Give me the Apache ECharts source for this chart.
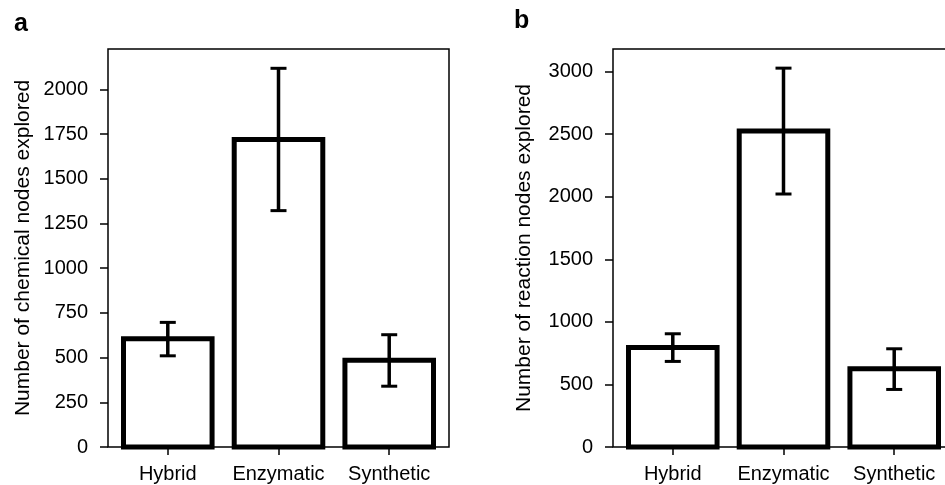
<!DOCTYPE html>
<html>
<head>
<meta charset="utf-8">
<script src="https://cdn.jsdelivr.net/npm/echarts@6/dist/echarts.min.js"></script>
<style>
  html, body { margin: 0; padding: 0; background: #fff; overflow: hidden; }
  /* kuva on rajattu oikealta, joten kaavio on hieman ikkunaa leveämpi */
  #chart-div { width: 960px; height: 485px; }
</style>
</head>
<body>
<div id="chart-div"></div>
<script>
// kategoriat ja arvot luettu kuvasta
const categories = ['Hybrid', 'Enzymatic', 'Synthetic']
const positions = [0, 1, 2]

// a: chemical nodes
const chemMean = [605, 1720, 485]
const chemLow = [510, 1322, 340]
const chemHigh = [697, 2118, 628]
const chemTicks = [0, 250, 500, 750, 1000, 1250, 1500, 1750, 2000]
const chemMax = 2226

// b: reaction nodes
const reactMean = [795, 2525, 625]
const reactLow = [684, 2022, 460]
const reactHigh = [905, 3028, 785]
const reactTicks = [0, 500, 1000, 1500, 2000, 2500, 3000]
const reactMax = 3181

const font = '"Liberation Sans", Arial, sans-serif'

function xAxisFor(gridIndex) {
    return {
        gridIndex: gridIndex,
        type: 'value',
        min: -0.54,
        max: 2.54,
        axisLine: { show: false, onZero: false },
        splitLine: { show: false },
        axisTick: {
            customValues: positions,
            length: 8,
            lineStyle: { color: '#000', width: 1.5 }
        },
        axisLabel: {
            customValues: positions,
            formatter: v => categories[Math.round(v)],
            margin: 17,
            fontSize: 20,
            fontFamily: font,
            color: '#000'
        }
    }
}

function yAxisFor(gridIndex, max, ticks, name, gap) {
    return {
        gridIndex: gridIndex,
        type: 'value',
        position: 'left',
        min: 0,
        max: max,
        name: name,
        nameLocation: 'middle',
        nameRotate: 90,
        nameGap: gap,
        nameTextStyle: { fontSize: 21, fontFamily: font, color: '#000' },
        axisLine: { show: false, onZero: false },
        splitLine: { show: false },
        axisTick: {
            show: true,
            customValues: ticks,
            length: 8,
            lineStyle: { color: '#000', width: 1.5 }
        },
        axisLabel: {
            customValues: ticks,
            formatter: v => String(v),
            margin: 20,
            fontSize: 20,
            fontFamily: font,
            color: '#000'
        }
    }
}

// pylväät: reunaviiva keskitetty reunalle kuten alkuperäisessä
function renderBar(params, api) {
    const x = api.value(0)
    const top = api.coord([x, api.value(1)])
    const base = api.coord([x, 0])
    const w = api.size([0.8, 0])[0]
    return {
        type: 'rect',
        shape: { x: top[0] - w / 2, y: top[1], width: w, height: base[1] - top[1] },
        style: { fill: '#fff', stroke: '#000', lineWidth: 5 }
    }
}

// virhepalkit
function renderError(params, api) {
    const x = api.value(0)
    const lo = api.coord([x, api.value(1)])
    const hi = api.coord([x, api.value(2)])
    const cap = 8
    return {
        type: 'group',
        children: [
            { type: 'line', shape: { x1: lo[0], y1: lo[1], x2: hi[0], y2: hi[1] }, style: { stroke: '#000', lineWidth: 3.5 } },
            { type: 'line', shape: { x1: lo[0] - cap, y1: lo[1], x2: lo[0] + cap, y2: lo[1] }, style: { stroke: '#000', lineWidth: 3 } },
            { type: 'line', shape: { x1: hi[0] - cap, y1: hi[1], x2: hi[0] + cap, y2: hi[1] }, style: { stroke: '#000', lineWidth: 3 } }
        ]
    }
}

function barSeries(idx, mean) {
    return {
        type: 'custom',
        xAxisIndex: idx,
        yAxisIndex: idx,
        renderItem: renderBar,
        encode: { x: 0, y: 1 },
        data: positions.map((p, i) => [p, mean[i]]),
        z: 2
    }
}

function errorSeries(idx, low, high) {
    return {
        type: 'custom',
        xAxisIndex: idx,
        yAxisIndex: idx,
        renderItem: renderError,
        encode: { x: 0, y: [1, 2] },
        data: positions.map((p, i) => [p, low[i], high[i]]),
        z: 3
    }
}

let myChart = echarts.init(document.getElementById('chart-div'))

const option = {
    animation: false,
    backgroundColor: '#fff',
    grid: [
        { left: 108, top: 49, width: 341, height: 398, show: true, borderColor: '#000', borderWidth: 1.5, backgroundColor: 'transparent' },
        { left: 613, top: 49, width: 341, height: 398, show: true, borderColor: '#000', borderWidth: 1.5, backgroundColor: 'transparent' }
    ],
    xAxis: [xAxisFor(0), xAxisFor(1)],
    yAxis: [
        yAxisFor(0, chemMax, chemTicks, 'Number of chemical nodes explored', 74),
        yAxisFor(1, reactMax, reactTicks, 'Number of reaction nodes explored', 78)
    ],
    graphic: [
        { type: 'text', left: 14, top: 12, style: { text: 'a', font: 'bold 25px ' + font, fill: '#000' } },
        { type: 'text', left: 514, top: 9, style: { text: 'b', font: 'bold 25px ' + font, fill: '#000' } }
    ],
    series: [
        barSeries(0, chemMean),
        errorSeries(0, chemLow, chemHigh),
        barSeries(1, reactMean),
        errorSeries(1, reactLow, reactHigh)
    ]
}

myChart.setOption(option)
</script>
</body>
</html>
